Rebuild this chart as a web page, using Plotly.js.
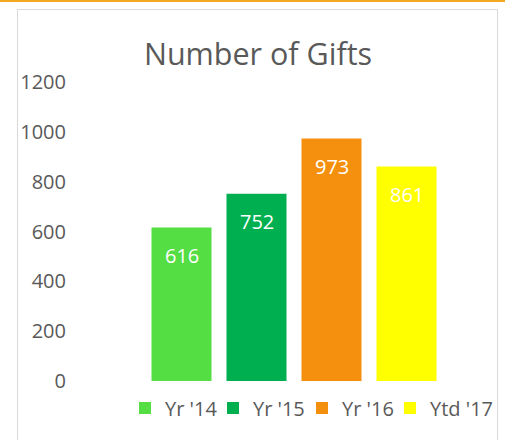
<!DOCTYPE html>
<html>
<head>
<meta charset="utf-8">
<script src="https://cdn.plot.ly/plotly-3.0.1.min.js"></script>
<style>
  html, body { margin:0; padding:0; background:#fff; }
  #wrap { position:relative; width:505px; height:440px; overflow:hidden; }
  #topline { position:absolute; left:0; top:0; width:505px; height:2px; background:#f5a623; }
  #frame { position:absolute; left:17px; top:9px; width:481px; height:450px; border:1px solid #d9d9d9; box-sizing:border-box; }
  #chart { position:absolute; left:0; top:0; width:505px; height:440px; }
</style>
</head>
<body>
<div id="wrap">
  <div id="topline"></div>
  <div id="frame"></div>
  <div id="chart"></div>
</div>
<script>
const categories = ["Yr '14", "Yr '15", "Yr '16", "Ytd '17"];
const values = [616, 752, 973, 861];
const colors = ["#55dd44", "#00b050", "#f5900e", "#ffff00"];
const yTicks = [0, 200, 400, 600, 800, 1000, 1200];

const font = "'Open Sans', 'Noto Sans', sans-serif";
const gray = "#595959";

const legendIds = ['legend', 'legend2', 'legend3', 'legend4'];
const legendX = [-0.0633, 0.23, 0.5267, 0.82];

const traces = categories.map((c, i) => ({
  type: 'bar',
  name: c,
  x: [c],
  y: [values[i]],
  width: 0.8,
  marker: { color: colors[i] },
  legend: legendIds[i],
  hoverinfo: 'none'
}));

const annotations = categories.map((c, i) => ({
  x: c, y: values[i], xref: 'x', yref: 'y',
  text: String(values[i]),
  showarrow: false,
  yanchor: 'middle',
  yshift: -28,
  font: { family: font, size: 20, color: '#ffffff' }
}));

const layout = {
  width: 505, height: 440,
  margin: { l: 144, r: 61, t: 82, b: 59, autoexpand: false },
  paper_bgcolor: 'rgba(0,0,0,0)',
  plot_bgcolor: 'rgba(0,0,0,0)',
  barmode: 'overlay',
  showlegend: true,
  title: {
    text: 'Number of Gifts',
    font: { family: font, size: 30.5, color: gray },
    x: 258/505, xref: 'container', xanchor: 'center',
    y: 1 - 54/440, yref: 'container', yanchor: 'middle'
  },
  xaxis: {
    type: 'category',
    categoryorder: 'array',
    categoryarray: categories,
    showticklabels: false,
    showgrid: false, zeroline: false, showline: false, ticks: ''
  },
  yaxis: {
    range: [0, 1200],
    tickvals: yTicks,
    ticktext: yTicks.map(String),
    showgrid: false, zeroline: false, showline: false, ticks: '',
    ticklabelstandoff: 77,
    tickfont: { family: font, size: 20, color: gray }
  },
  annotations: annotations
};

legendIds.forEach((id, i) => {
  layout[id] = {
    orientation: 'h',
    x: legendX[i], xanchor: 'left',
    y: -0.09, yanchor: 'middle',
    font: { family: font, size: 20, color: gray },
    bgcolor: 'rgba(0,0,0,0)'
  };
});

Plotly.newPlot('chart', traces, layout, { displayModeBar: false, staticPlot: true });
</script>
</body>
</html>
